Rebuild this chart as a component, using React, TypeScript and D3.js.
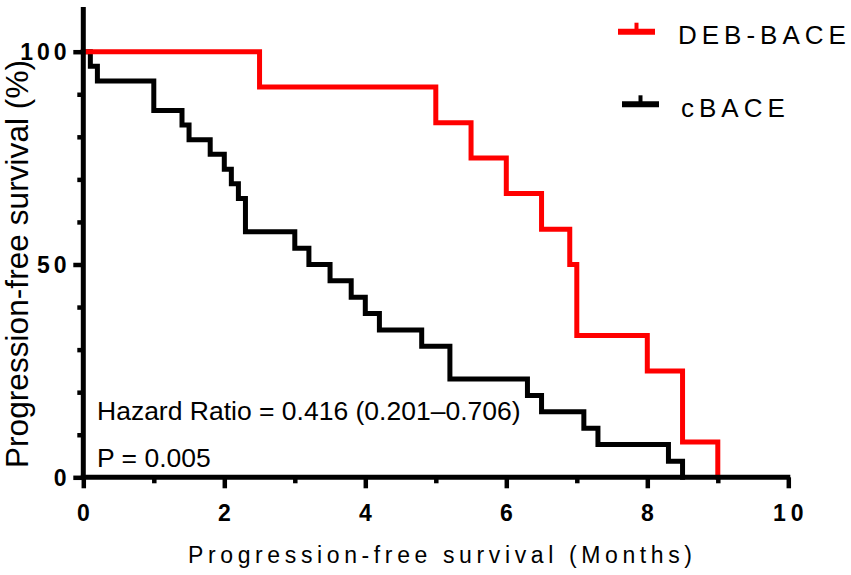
import React, { useEffect, useRef } from 'react';
import * as d3 from 'd3';

// Kaplan-Meier steps (months, % progression-free)
const debTimes = [0, 2.5, 5, 5.5, 6, 6.5, 6.9, 7, 8, 8.5, 9];
const debSurvival = [100, 91.7, 83.3, 75, 66.7, 58.3, 50, 33.3, 25, 8.3, 0];

const cTimes = [0, 0.1, 0.2, 1.0, 1.4, 1.5, 1.8, 2.0, 2.1, 2.2, 2.3, 3.0, 3.2, 3.5, 3.8, 4.0, 4.2, 4.8, 5.2, 6.3, 6.5, 7.1, 7.3, 8.3, 8.5];
const cSurvival = [100, 96.6, 93.1, 86.2, 82.8, 79.3, 75.9, 72.4, 69.0, 65.5, 57.7, 53.8, 50.0, 46.2, 42.3, 38.5, 34.6, 30.8, 23.1, 19.2, 15.4, 11.5, 7.7, 3.8, 0];

const seriesNames = ['DEB-BACE', 'cBACE'];
const seriesColors = ['#ff0000', '#000000'];

const xMajorTicks = [0, 2, 4, 6, 8, 10];
const xMinorTicks = [1, 3, 5, 7, 9];
const yMajorTicks = [0, 50, 100];
const yMinorTicks = [10, 20, 30, 40, 60, 70, 80, 90];

const xTitle = 'Progression-free survival (Months)';
const yTitle = 'Progression-free survival (%)';
const hazardText = 'Hazard Ratio = 0.416 (0.201\u20130.706)';
const pText = 'P = 0.005';

const FONT = '"Liberation Sans", Arial, sans-serif';

const App = () => {
  const container = useRef(null);

  useEffect(() => {
    createChart();
  }, []);

  // spread the glyphs of a label apart (GraphPad style spacing)
  const spreadText = (sel, gap) => {
    sel.each(function () {
      const node = this as SVGTextElement;
      const n = (node.textContent || '').length;
      if (n < 2) return;
      const w = node.getComputedTextLength();
      d3.select(node).attr('textLength', w + (n - 1) * gap).attr('lengthAdjust', 'spacing');
    });
  };

  const createChart = () => {
    const width = 851;
    const height = 575;

    const x = d3.scaleLinear().domain([0, 10]).range([83.3, 788.3]);
    const y = d3.scaleLinear().domain([0, 100]).range([477.3, 51.7]);

    const svg = d3
      .select(container.current)
      .selectAll('svg')
      .data([0])
      .join('svg')
      .attr('width', width)
      .attr('height', height)
      .style('position', 'absolute')
      .style('left', 0)
      .style('top', 0)
      .style('font-family', FONT);

    svg.selectAll('*').remove();
    svg.append('rect').attr('width', width).attr('height', height).attr('fill', '#fff');

    // curves
    const line = d3
      .line<[number, number]>()
      .x(d => x(d[0]))
      .y(d => y(d[1]))
      .curve(d3.curveStepAfter);

    const curves = [
      d3.zip(cTimes, cSurvival) as [number, number][],
      d3.zip(debTimes, debSurvival) as [number, number][]
    ];
    const curveColors = [seriesColors[1], seriesColors[0]];

    svg
      .selectAll('.km')
      .data(curves)
      .join('path')
      .attr('class', 'km')
      .attr('d', d => line(d))
      .attr('fill', 'none')
      .attr('stroke', (d, i) => curveColors[i])
      .attr('stroke-width', 5)
      .attr('stroke-linejoin', 'miter')
      .attr('stroke-linecap', 'square');

    // axes: tick marks from d3-axis, labels drawn separately
    const styleAxis = g => {
      g.select('.domain').remove();
      g.selectAll('line').attr('stroke', '#000').attr('stroke-width', 4.5);
      g.selectAll('text').remove();
    };

    svg
      .append('g')
      .attr('transform', `translate(0, ${y(0)})`)
      .call(d3.axisBottom(x).tickValues(xMinorTicks).tickSize(6).tickSizeOuter(0))
      .call(styleAxis);
    svg
      .append('g')
      .attr('transform', `translate(0, ${y(0)})`)
      .call(d3.axisBottom(x).tickValues(xMajorTicks).tickSize(11).tickSizeOuter(0))
      .call(styleAxis);
    svg
      .append('g')
      .attr('transform', `translate(${x(0)}, 0)`)
      .call(d3.axisLeft(y).tickValues(yMinorTicks).tickSize(6).tickSizeOuter(0))
      .call(styleAxis);
    svg
      .append('g')
      .attr('transform', `translate(${x(0)}, 0)`)
      .call(d3.axisLeft(y).tickValues(yMajorTicks).tickSize(10).tickSizeOuter(0))
      .call(styleAxis);

    svg
      .selectAll('.xlabel')
      .data(xMajorTicks)
      .join('text')
      .attr('class', 'xlabel')
      .attr('x', d => x(d))
      .attr('y', 521)
      .attr('text-anchor', 'middle')
      .attr('font-size', 23)
      .attr('font-weight', 'bold')
      .text(d => String(d))
      .call(spreadText, 5);

    svg
      .selectAll('.ylabel')
      .data(yMajorTicks)
      .join('text')
      .attr('class', 'ylabel')
      .attr('x', 66.5)
      .attr('y', d => y(d) + 8.5)
      .attr('text-anchor', 'end')
      .attr('font-size', 23)
      .attr('font-weight', 'bold')
      .text(d => String(d))
      .call(spreadText, 4);

    // axis lines
    svg
      .append('line')
      .attr('x1', x(0))
      .attr('x2', x(0))
      .attr('y1', y(0) + 2.5)
      .attr('y2', 7)
      .attr('stroke', '#000')
      .attr('stroke-width', 5);
    svg
      .append('line')
      .attr('x1', x(0) - 2.5)
      .attr('x2', x(10) + 2)
      .attr('y1', y(0))
      .attr('y2', y(0))
      .attr('stroke', '#000')
      .attr('stroke-width', 5);

    // titles
    svg
      .append('text')
      .attr('x', 188)
      .attr('y', 563)
      .attr('textLength', 504)
      .attr('lengthAdjust', 'spacing')
      .style('font-size', '23px')
      .text(xTitle);

    svg
      .append('text')
      .attr('transform', 'translate(28, 468) rotate(-90)')
      .attr('textLength', 408)
      .attr('lengthAdjust', 'spacing')
      .style('font-size', '31.5px')
      .text(yTitle);

    // annotations
    svg
      .append('text')
      .attr('x', 97)
      .attr('y', 420)
      .style('font-size', '26.5px')
      .text(hazardText);
    svg
      .append('text')
      .attr('x', 97)
      .attr('y', 467)
      .style('font-size', '26.5px')
      .text(pText);

    // legend
    const legendRows = [
      { x: 618, y: 31.7, tx: 678, ty: 44 },
      { x: 622, y: 104.3, tx: 681, ty: 117 }
    ];
    const legend = svg
      .selectAll('.legend')
      .data(seriesNames)
      .join('g')
      .attr('class', 'legend');

    legend
      .append('line')
      .attr('x1', (d, i) => legendRows[i].x)
      .attr('x2', (d, i) => legendRows[i].x + 37)
      .attr('y1', (d, i) => legendRows[i].y)
      .attr('y2', (d, i) => legendRows[i].y)
      .attr('stroke', (d, i) => seriesColors[i])
      .attr('stroke-width', 6);
    legend
      .append('line')
      .attr('x1', (d, i) => legendRows[i].x + 18.5)
      .attr('x2', (d, i) => legendRows[i].x + 18.5)
      .attr('y1', (d, i) => legendRows[i].y)
      .attr('y2', (d, i) => legendRows[i].y - 9)
      .attr('stroke', (d, i) => seriesColors[i])
      .attr('stroke-width', 4);
    legend
      .append('text')
      .attr('x', (d, i) => legendRows[i].tx)
      .attr('y', (d, i) => legendRows[i].ty)
      .style('font-size', '26px')
      .style('letter-spacing', '5px')
      .text(d => d);
  };

  return <div className="km-container" ref={container}></div>;
};

export default App;
